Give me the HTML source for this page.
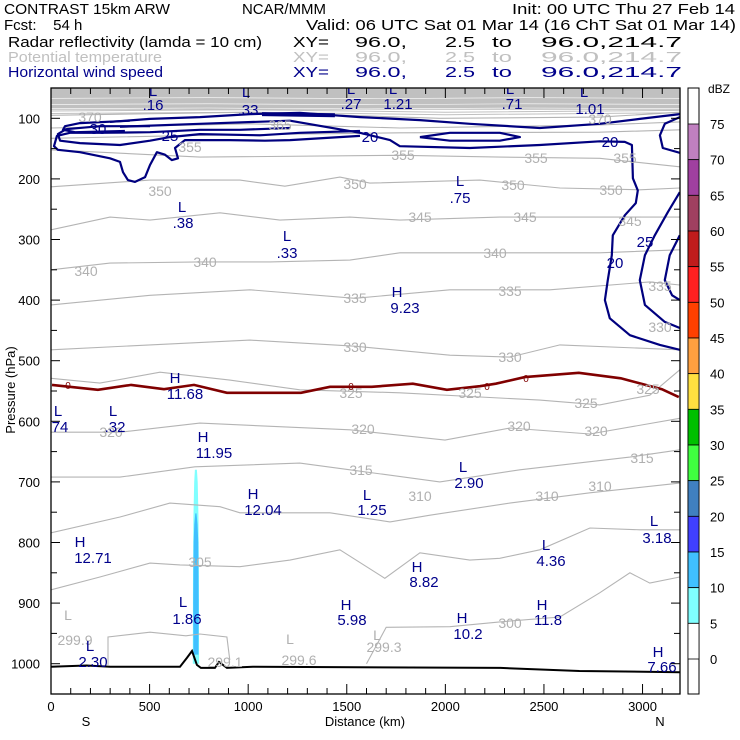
<!DOCTYPE html>
<html><head><meta charset="utf-8"><style>
html,body{margin:0;padding:0;background:#fff}
svg{display:block}
text{font-family:"Liberation Sans",sans-serif}
</style></head><body>
<svg id="chart" width="740" height="740" viewBox="0 0 740 740" xmlns="http://www.w3.org/2000/svg">
<g font-size="15">
<text x="4" y="14" textLength="166" lengthAdjust="spacingAndGlyphs">CONTRAST 15km ARW</text>
<text x="242" y="14" textLength="84" lengthAdjust="spacingAndGlyphs">NCAR/MMM</text>
<text x="512" y="14" textLength="223" lengthAdjust="spacingAndGlyphs">Init: 00 UTC Thu 27 Feb 14</text>
<text x="4" y="30" xml:space="preserve">Fcst:    54 h</text>
<text x="306" y="30" textLength="430" lengthAdjust="spacingAndGlyphs">Valid: 06 UTC Sat 01 Mar 14 (16 ChT Sat 01 Mar 14)</text>
<text x="8" y="47" textLength="254" lengthAdjust="spacingAndGlyphs">Radar reflectivity (lamda = 10 cm)</text>
<text x="8" y="62" fill="#c0c0c0" textLength="154" lengthAdjust="spacingAndGlyphs">Potential temperature</text>
<text x="8" y="77" fill="#00008b" textLength="155" lengthAdjust="spacingAndGlyphs">Horizontal wind speed</text>
</g>
<g id="xyhdr" font-size="15"></g>
<defs><clipPath id="pc"><rect x="51" y="88" width="629" height="606"/></clipPath></defs>
<g id="plot" clip-path="url(#pc)"></g>
<g id="axes"></g>
<g id="cbar"></g>
</svg>
<script>
const NS="http://www.w3.org/2000/svg";
const xMin=0,xMax=3190,pMin=50,pMax=1050;
const L=51,R=680,T=88,B=694;
function X(km){return L+(km-xMin)/(xMax-xMin)*(R-L);}
function Y(p){return T+(p-pMin)/(pMax-pMin)*(B-T);}

const yTickValues=[100,200,300,400,500,600,700,800,900,1000];
const xTickValues=[0,500,1000,1500,2000,2500,3000];
const thetaLevels=[370,365,360,355,350,345,340,335,330,325,320,315,310,305,300,299];
const theta370=[[0,95],[1009,90],[1972,100],[2783,98],[3189,90]];
const theta365=[[0,116],[1009,109],[1769,116],[2783,111],[3189,106]];
const theta360=[[0,133],[755,128],[1769,124],[2783,123],[3189,119]];
const theta355=[[0,152],[755,164],[1769,161],[2276,164],[2783,166],[3189,180]];
const theta350=[[0,213],[502,202],[958,202],[1186,212],[1465,197],[1617,207],[2175,202],[2581,215],[2986,218],[3189,215]];
const theta345=[[0,284],[299,263],[502,268],[857,256],[1161,268],[1516,263],[1769,268],[2276,263],[2783,263],[3189,263]];
const theta340=[[0,350],[299,339],[755,337],[1110,337],[1516,334],[1769,322],[2276,322],[2783,322],[3189,317]];
const theta335=[[0,408],[502,392],[1009,383],[1541,397],[2023,383],[2530,383],[3037,370],[3189,375]];
const theta330=[[0,482],[502,474],[1009,466],[1541,476],[2023,491],[2327,494],[2581,474],[3189,482]];
const theta325=[[0,529],[248,537],[553,519],[907,532],[1262,548],[1769,553],[2479,565],[2783,573],[3037,557],[3189,515]];
const theta320=[[0,618],[350,618],[755,603],[1516,614],[1998,631],[2327,611],[2733,621],[3189,595]];
const theta315=[[0,692],[350,692],[730,675],[1262,669],[1516,680],[1972,700],[2378,680],[2936,659],[3189,647]];
const theta310=[[0,784],[350,758],[603,735],[857,741],[958,751],[1415,751],[1719,766],[1922,755],[2327,735],[2733,718],[3189,702]];
const theta305=[[0,878],[248,857],[502,834],[654,837],[958,840],[1212,829],[1465,812],[1693,859],[1871,817],[2124,829],[2276,826],[2479,812],[2733,776],[2986,779],[3189,779]];
const theta300=[[1600,1000],[1700,940],[2023,939],[2276,931],[2581,923],[2783,883],[2936,850],[3037,867],[3189,857]];
const theta299=[[289,1002],[289,956],[502,948],[684,954],[755,951],[892,956],[907,994]];
const thetaSeries=[theta370,theta365,theta360,theta355,theta350,theta345,theta340,theta335,theta330,theta325,theta320,theta315,theta310,theta305,theta300,theta299];

const windLevels=[20,20,20,25,30,30,30,25,30,35];
const windTop=[[299,106],[502,101],[755,98],[1009,93],[1262,91],[1567,98],[1871,103],[2124,109],[2479,116],[2783,109],[2986,101],[3189,93]];
const windRight20=[[350,114],[755,109],[1212,104],[1567,124],[1719,136],[1769,146],[2124,149],[2479,144],[2783,138],[2910,139],[2946,144],[2951,199],[2976,219],[2966,240],[2910,260],[2849,293],[2844,326],[2824,367],[2809,400],[2834,430],[2936,458],[3088,474],[3189,482]];
const windLeft20=[[1212,116],[958,119],[755,119],[502,123],[248,124],[96,124],[30,129],[15,146],[35,152],[147,156],[299,166],[350,172],[365,189],[390,202],[426,205],[477,197],[502,177],[537,156],[578,160],[613,169],[644,166],[629,149],[679,136],[907,136],[1085,137],[1212,136],[1567,129]];
const windLeft25=[[502,113],[248,113],[76,118],[35,126],[46,137],[147,141],[350,144],[502,137],[603,131],[755,126],[1059,128],[1262,124],[1567,121]];
const windLeft30=[[400,104],[147,108],[71,113],[61,119],[122,123],[375,121]];
const windCore=[[1871,131],[2023,124],[2276,124],[2378,131],[2276,137],[2023,137],[1871,131]];
const windRightC=[[3189,98],[3113,109],[3088,128],[3103,149],[3189,157]];
const windRight25=[[3189,222],[3128,255],[3062,293],[3012,326],[2986,367],[3012,408],[3113,436],[3189,446]];
const windRight30=[[3189,293],[3138,326],[3113,367],[3150,392],[3189,400]];
const windJetMax=[[1070,93],[1440,95]];
const windSeries=[windTop,windRight20,windLeft20,windLeft25,windLeft30,windCore,windRightC,windRight25,windRight30,windJetMax];

const freezingLevel=[[5,540],[238,548],[406,540],[573,547],[725,540],[892,553],[1268,553],[1415,543],[1627,543],[1835,538],[2008,548],[2175,542],[2256,538],[2403,527],[2677,520],[2890,529],[3098,547],[3184,560]];
const terrain=[[0,1005],[180,1003],[300,1005],[654,1005],[690,990],[715,979],[740,1002],[760,1007],[831,1007],[852,997],[892,1007],[1024,1005],[2280,1007],[2680,1012],[3189,1014]];

const reflCenterKm=735;
const refl5Pressure=[680,700,760,850,1000];
const refl5HalfKm=[5,9,13,15,16];
const refl10Pressure=[752,770,800,900,985];
const refl10HalfKm=[3,8,12,14,13];

const cbarLabels=[75,70,65,60,55,50,45,40,35,30,25,20,15,10,5,0];
const cbarColors=["#c080c0","#a040a0","#a04060","#c01c1c","#ff2020","#ff4000","#ffa040","#ffe040","#00c000","#40ff40","#4080c0","#4040ff","#40c0ff","#80ffff","#ffffff"];

function el(tag,attrs,parent){const e=document.createElementNS(NS,tag);for(const k in attrs)e.setAttribute(k,attrs[k]);parent.appendChild(e);return e;}
function pts(arr){return arr.map(d=>X(d[0]).toFixed(1)+","+Y(d[1]).toFixed(1)).join(" ");}
const plot=document.getElementById("plot"),axes=document.getElementById("axes"),cbar=document.getElementById("cbar");

// XY header lines
const xyHdr=document.getElementById("xyhdr");
const xyParts=[["XY=",293,36],["96.0,",355,52],["2.5",445,30],["to",492,20],["96.0,214.7",541,141]];
[[47,"#000"],[62,"#c0c0c0"],[77,"#00008b"]].forEach(row=>{
  xyParts.forEach(p=>{
    let t=el("text",{x:p[1],y:row[0],fill:row[1],textLength:p[2],lengthAdjust:"spacingAndGlyphs"},xyHdr);
    t.textContent=p[0];
    
    
  });
});

let band=el("rect",{x:L,y:Y(pMin),width:R-L,height:Y(86)-Y(pMin),fill:"#c0c0c0"},plot);


[66,76,83].forEach((p,i)=>{
  let w=el("polyline",{points:pts([[0,p+1],[800,p],[1600,p+1.5],[2400,p],[3190,p+1]]),fill:"none",stroke:"#fff","stroke-width":0.6},plot);
  
  
});
[88,92].forEach(p=>{
  let w=el("polyline",{points:pts([[0,p],[1000,p-2],[2000,p+2],[3190,p-1]]),fill:"none",stroke:"#c0c0c0","stroke-width":1},plot);
  
  
});

function reflPoly(ps,hs){
  const left=ps.map((p,i)=>[reflCenterKm-hs[i],p]);
  const right=ps.map((p,i)=>[reflCenterKm+hs[i],p]).reverse();
  return pts(left.concat(right));
}
let r5=el("polygon",{points:reflPoly(refl5Pressure,refl5HalfKm),fill:"#80ffff"},plot);


let r10=el("polygon",{points:reflPoly(refl10Pressure,refl10HalfKm),fill:"#40c0ff"},plot);



thetaSeries.forEach((s,i)=>{
  let c=el("polyline",{points:pts(s),fill:"none",stroke:"#b4b4b4","stroke-width":1.1},plot);
  
  
});

windSeries.forEach((s,i)=>{
  let c=el("polyline",{points:pts(s),fill:"none",stroke:"#00007f","stroke-width":i===9?4:2.2,"stroke-linejoin":"round"},plot);
  
  
});

let fz=el("polyline",{points:pts(freezingLevel),fill:"none",stroke:"#800000","stroke-width":2.6},plot);



let tr=el("polyline",{points:pts(terrain),fill:"none",stroke:"#000","stroke-width":2},plot);



function label(txt,x,y,color,size,name){
  let t=el("text",{x:x,y:y,fill:color,"font-size":size,"text-anchor":"middle"},plot);
  t.textContent=txt;
  
  
}
const G="#b0b0b0",BL="#00008b";
[["370",90,122],["365",280,130],["370",600,124],["355",190,152],["355",403,160],["355",536,163],["355",625,163],["350",355,189],["350",513,190],["350",611,195],["350",160,196],["345",420,222],["345",525,222],["345",630,226],["340",86,276],["340",205,267],["340",495,258],["335",355,303],["335",510,296],["335",660,291],["330",355,352],["330",510,362],["330",660,332],["325",351,398],["325",470,398],["325",586,408],["325",648,394],["320",111,437],["320",363,434],["320",519,431],["320",596,436],["315",361,475],["315",642,463],["310",420,501],["310",547,501],["310",600,491],["305",200,567],["300",510,628],["299.9",75,645],["299.6",299,665],["299.3",384,652],["299.1",225,667],["L",68,620],["L",290,644],["L",377,640]].forEach(a=>label(a[0],a[1],a[2],G,14,'theta-label'));
[["30",98,134],["25",170,141],["20",370,142],["20",610,147],["25",645,247],["20",615,268]].forEach(a=>label(a[0],a[1],a[2],BL,15,'wind-contour-label'));
[["0",68,389],["0",351,390],["0",487,390],["0",526,382]].forEach(a=>label(a[0],a[1],a[2],"#800000",10,'freezing-label'));
[["L",153,96],[".16",153,110],["L",246,97],[".33",248,115],["L",351,94],[".27",351,109],["L",393,94],["1.21",398,109],["L",510,94],[".71",512,109],["L",584,97],["1.01",590,114],["L",182,212],[".38",183,228],["L",287,241],[".33",287,258],["L",460,186],[".75",460,203],["H",397,297],["9.23",405,313],["H",175,383],["11.68",185,399],["L",58,416],["74",60,432],["L",113,416],[".32",115,432],["H",203,442],["11.95",214,458],["L",463,472],["2.90",469,488],["H",253,499],["12.04",263,515],["L",367,500],["1.25",372,515],["L",654,526],["3.18",657,543],["H",80,547],["12.71",93,563],["L",546,550],["4.36",551,566],["H",417,572],["8.82",424,587],["L",183,607],["1.86",187,624],["H",346,610],["5.98",352,625],["H",462,623],["10.2",468,639],["H",542,610],["11.8",548,625],["L",90,651],["2.30",93,667],["H",658,657],["7.66",662,672]].forEach(a=>label(a[0],a[1],a[2],BL,15,'extremum-label'));

let fr=el("rect",{x:L,y:T,width:R-L,height:B-T,fill:"none",stroke:"#000","stroke-width":1.3},axes);


for(let km=0;km<=3100;km+=100){
  const len=km%500===0?10:6;
  let t=el("line",{x1:X(km),x2:X(km),y1:B,y2:B-len,stroke:"#000"},axes);
  
  
  let t2=el("line",{x1:X(km),x2:X(km),y1:T,y2:T+len,stroke:"#000"},axes);
  
  
}
for(let p=100;p<=1050;p+=50){
  const len=p%100===0?9:6;
  let t=el("line",{x1:L,x2:L+len,y1:Y(p),y2:Y(p),stroke:"#000"},axes);
  
  
  let t2=el("line",{x1:R,x2:R-len,y1:Y(p),y2:Y(p),stroke:"#000"},axes);
  
  
}
yTickValues.forEach(v=>{
  let t=el("text",{x:40,y:Y(v)+5,"font-size":13,"text-anchor":"end"},axes);
  t.textContent=v;
  
  
});
xTickValues.forEach(v=>{
  let t=el("text",{x:X(v),y:711,"font-size":13,"text-anchor":"middle"},axes);
  t.textContent=v;
  
  
});
[["S",86,726,'south-label'],["Distance (km)",365,726,'x-axis-title'],["N",660,726,'north-label']].forEach(a=>{
  let t=el("text",{x:a[1],y:a[2],"font-size":13,"text-anchor":"middle"},axes);
  t.textContent=a[0];
  
  
});
let yt=el("text",{x:0,y:0,"font-size":13,"text-anchor":"middle",transform:"translate(15,390) rotate(-90)"},axes);
yt.textContent="Pressure (hPa)";



const cbX=688,cbW=11,cbTop=88,cbBot=694,cb75=124,cbStep=(659-124)/15;
let cbFrame=el("rect",{x:cbX,y:cbTop,width:cbW,height:cbBot-cbTop,fill:"#fff",stroke:"#000"},cbar);


cbarColors.forEach((c,i)=>{
  let r=el("rect",{x:cbX,y:cb75+i*cbStep,width:cbW,height:cbStep,fill:c,stroke:"#000","stroke-width":0.8},cbar);
  
  
});
cbarLabels.forEach((v,i)=>{
  let t=el("text",{x:710,y:cb75+i*cbStep+5,"font-size":13},cbar);
  t.textContent=v;
  
  
});
let du=el("text",{x:708,y:93,"font-size":12},cbar);
du.textContent="dBZ";


</script>
</body></html>
